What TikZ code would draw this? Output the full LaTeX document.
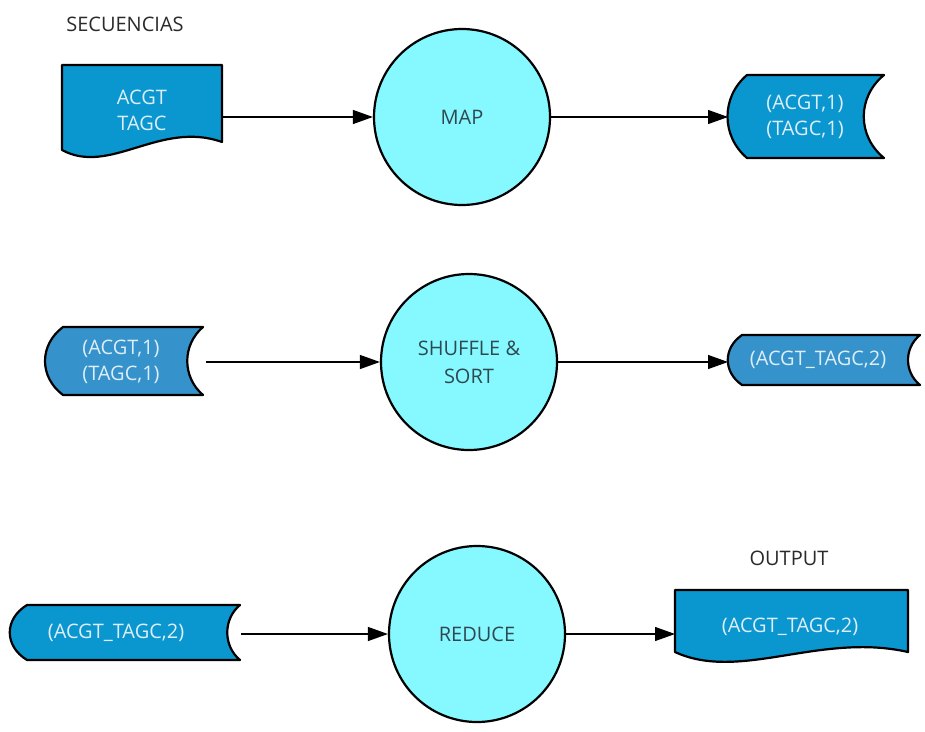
\documentclass[tikz,border=0pt]{standalone}
\usepackage{fontspec}
\setmainfont{Open Sans}
\usetikzlibrary{arrows.meta}
\definecolor{docblue}{HTML}{0A96CF}
\definecolor{midblue}{HTML}{3592CB}
\definecolor{proccyan}{HTML}{86F8FF}
\definecolor{lighttext}{HTML}{DDEEF8}
\definecolor{darktext}{HTML}{2E4A50}
\definecolor{captext}{HTML}{2A2A2A}
\tikzset{
  shapeline/.style={draw=black, line width=2.2pt, line join=round},
  process/.style={circle, draw=black, line width=2.2pt, fill=proccyan,
    minimum size=176pt, inner sep=0pt, text=darktext, align=center,
    font=\fontsize{20}{28}\selectfont},
  datatext/.style={text=lighttext, align=center, inner sep=0pt,
    font=\fontsize{20}{26}\selectfont},
  caption/.style={text=captext, inner sep=0pt, font=\fontsize{20}{22}\selectfont},
  flow/.style={line width=1.2pt, -{Triangle[length=20pt,width=14pt]}},
}
\begin{document}
\begin{tikzpicture}[x=1pt,y=-1pt]
\useasboundingbox (0,0) rectangle (925,731);

% ---- row 1: sequences -> MAP -> pairs
\node[caption] (seqlabel) at (125,24) {SECUENCIAS};
\draw[shapeline, fill=docblue] (62,65) -- (222,65) -- (222,142)
  .. controls (160,120) and (110,176) .. (62,150) -- cycle;
\node[datatext] (seq) at (142,110) {ACGT\\TAGC};
\coordinate (seq-out) at (222,117);

\node[process] (map) at (462,117) {MAP};

\draw[shapeline, fill=docblue] (747,75) -- (884,75)
  .. controls (857,97) and (857,136) .. (884,158) -- (747,158)
  .. controls (721,136) and (721,97) .. (747,75) -- cycle;
\node[datatext] (pairs1) at (805,117) {(ACGT,1)\\(TAGC,1)};
\coordinate (pairs1-in) at (728,117);

\draw[flow] (seq-out) -- (map);
\draw[flow] (map) -- (pairs1-in);

% ---- row 2: pairs -> SHUFFLE & SORT -> grouped pair
\draw[shapeline, fill=midblue] (63,327) -- (203,327)
  .. controls (182,345) and (182,377) .. (203,395) -- (63,395)
  .. controls (39,377) and (39,345) .. (63,327) -- cycle;
\node[datatext] (pairs2) at (121,362) {(ACGT,1)\\(TAGC,1)};
\coordinate (pairs2-out) at (206,362);

\node[process] (shuffle) at (469,362) {SHUFFLE \&\\SORT};

\draw[shapeline, fill=midblue] (742,335) -- (920,335)
  .. controls (904,348) and (904,372) .. (920,385) -- (742,385)
  .. controls (723,372) and (723,348) .. (742,335) -- cycle;
\node[datatext] (grouped1) at (818,360) {(ACGT\_TAGC,2)};
\coordinate (grouped1-in) at (728,362);

\draw[flow] (pairs2-out) -- (shuffle);
\draw[flow] (shuffle) -- (grouped1-in);

% ---- row 3: grouped pair -> REDUCE -> output
\draw[shapeline, fill=docblue] (27,605) -- (240,605)
  .. controls (223,619) and (223,646) .. (240,660) -- (27,660)
  .. controls (4,646) and (4,619) .. (27,605) -- cycle;
\node[datatext] (grouped2) at (116,633) {(ACGT\_TAGC,2)};
\coordinate (grouped2-out) at (241,634);

\node[process] (reduce) at (477,634) {REDUCE};

\node[caption] (outlabel) at (789,558) {OUTPUT};
\draw[shapeline, fill=docblue] (675,590) -- (908,590) -- (908,652)
  .. controls (820,632) and (740,682) .. (675,652) -- cycle;
\node[datatext] (result) at (790,627) {(ACGT\_TAGC,2)};
\coordinate (result-in) at (675,634);

\draw[flow] (grouped2-out) -- (reduce);
\draw[flow] (reduce) -- (result-in);
\end{tikzpicture}
\end{document}
